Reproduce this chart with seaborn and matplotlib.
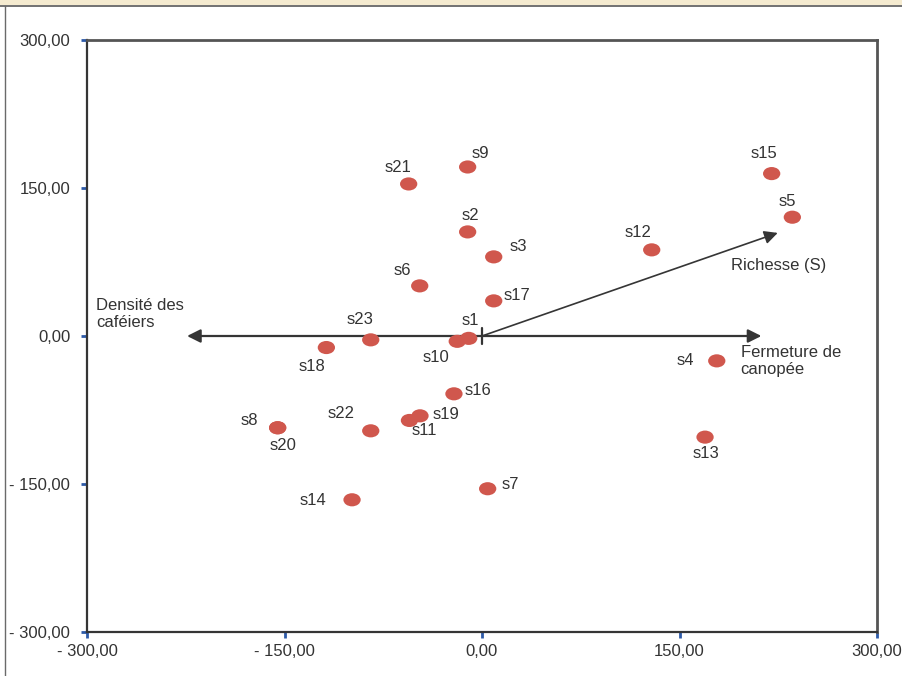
import numpy as np
import pandas as pd
import matplotlib
matplotlib.use("Agg")
import matplotlib.pyplot as plt
from matplotlib.path import Path
from matplotlib.patches import Rectangle
from matplotlib.lines import Line2D
import seaborn as sns

# Site scores on the first two ordination axes
sites = ["s1", "s2", "s3", "s4", "s5", "s6", "s7", "s8", "s9", "s10", "s11", "s12",
         "s13", "s14", "s15", "s16", "s17", "s18", "s19", "s20", "s21", "s22", "s23"]
axis1 = [-10.1, -10.9, 8.9, 178.3, 235.7, -47.3, 4.3, -155.2, -10.9, -18.8, -55.1, 128.9,
         169.4, -98.7, 220.0, -21.3, 8.9, -118.2, -47.1, -155.2, -55.7, -84.5, -84.5]
axis2 = [-2.4, 105.5, 80.2, -25.2, 120.4, 50.8, -154.8, -93.0, 171.3, -5.4, -85.6, 87.3,
         -102.5, -166.0, 164.6, -58.6, 35.6, -11.7, -80.9, -93.0, 154.1, -96.1, -3.9]

# Environmental vectors (arrow tips)
vec_names = ["Densité des\ncaféiers", "Fermeture de\ncanopée", "Richesse (S)"]
vec_x = [-224.0, 212.2, 224.6]
vec_y = [0.0, 0.0, 104.5]

tick_values = [-300, -150, 0, 150, 300]
tick_labels = ["- 300,00", "- 150,00", "0,00", "150,00", "300,00"]

# Label offsets (pixels) relative to each point
label_offsets = {
    "s1": (2, 18), "s2": (3, 16), "s3": (25, 10), "s4": (-31, 0), "s5": (-5, 16),
    "s6": (-17, 15), "s7": (23, 4), "s8": (-28, 7), "s9": (13, 13), "s10": (-21, -16),
    "s11": (15, -10), "s12": (-14, 17), "s13": (1, -16), "s14": (-39, -1), "s15": (-8, 20),
    "s16": (24, 3), "s17": (23, 5), "s18": (-14, -19), "s19": (26, 1), "s20": (5, -18),
    "s21": (-11, 16), "s22": (-30, 17), "s23": (-11, 20),
}

df = pd.DataFrame({"site": sites, "x": axis1, "y": axis2})

text_color = "#333333"
line_color = "#353535"
dot_color = "#d0574d"
tick_color = "#2d5aa8"

sns.set_theme(style="white")
plt.rcParams["font.family"] = ["Liberation Sans", "DejaVu Sans"]

fig = plt.figure(figsize=(9.02, 6.76), dpi=100)
ax = fig.add_axes([87 / 902, 1 - 632 / 676, 790 / 902, 592 / 676])

# Elliptic marker
circ = Path.unit_circle()
ellipse = Path(circ.vertices * np.array([1.0, 0.76]), circ.codes)

sns.scatterplot(data=df, x="x", y="y", ax=ax, marker=ellipse, s=155,
                color=dot_color, edgecolor="none", linewidth=0, zorder=3, legend=False)

for name, xv, yv in zip(sites, axis1, axis2):
    dx, dy = label_offsets[name]
    ax.annotate(name, (xv, yv), xytext=(dx, dy), textcoords="offset pixels",
                ha="center", va="center", fontsize=12, color=text_color, zorder=4)

# Vectors drawn from the origin
arrow_kw = dict(arrowstyle="-|>", color=line_color, lw=1.6, mutation_scale=20,
                shrinkA=0, shrinkB=0)
ax.annotate("", xy=(vec_x[0], vec_y[0]), xytext=(0, 0), arrowprops=arrow_kw, zorder=2)
ax.annotate("", xy=(vec_x[1], vec_y[1]), xytext=(0, 0), arrowprops=arrow_kw, zorder=2)
ax.annotate("", xy=(vec_x[2], vec_y[2]), xytext=(0, 0),
            arrowprops=dict(arrow_kw, lw=1.2), zorder=2)
ax.plot([0, 0], [-8, 8], color=line_color, lw=1.6, zorder=2)

ax.text(-292.9, 22.4, vec_names[0], ha="left", va="center", fontsize=12,
        color=text_color, linespacing=1.15)
ax.text(196.5, -25.5, vec_names[1], ha="left", va="center", fontsize=12,
        color=text_color, linespacing=1.15)
ax.text(225.6, 71.4, vec_names[2], ha="center", va="center", fontsize=12,
        color=text_color)

ax.set_xlim(-300, 300)
ax.set_ylim(-300, 300)
ax.set_xticks(tick_values)
ax.set_xticklabels(tick_labels)
ax.set_yticks(tick_values)
ax.set_yticklabels(tick_labels)
ax.set_xlabel("")
ax.set_ylabel("")
ax.tick_params(axis="both", which="major", direction="out", length=4, width=2,
               color=tick_color, labelsize=12, labelcolor=text_color)
ax.tick_params(axis="x", pad=5, bottom=True)
ax.tick_params(axis="y", pad=8, left=True)

for side, sp in ax.spines.items():
    sp.set_visible(True)
    sp.set_color(line_color if side in ("left", "bottom") else "#555555")
    sp.set_linewidth(1.6 if side in ("left", "bottom") else 2.0)

# Page frame: beige strip and border lines
fig.patches.append(Rectangle((0, 1 - 5 / 676), 1, 5 / 676, transform=fig.transFigure,
                             facecolor="#f5ebd0", edgecolor="none", zorder=0))
fig.lines.append(Line2D([0, 1], [1 - 5.5 / 676, 1 - 5.5 / 676], transform=fig.transFigure,
                        color="#5a5a5a", lw=1.2))
fig.lines.append(Line2D([4.5 / 902, 4.5 / 902], [0, 1 - 5.5 / 676], transform=fig.transFigure,
                        color="#6a6a6a", lw=1.0))

fig.savefig("out.png", dpi=100)
